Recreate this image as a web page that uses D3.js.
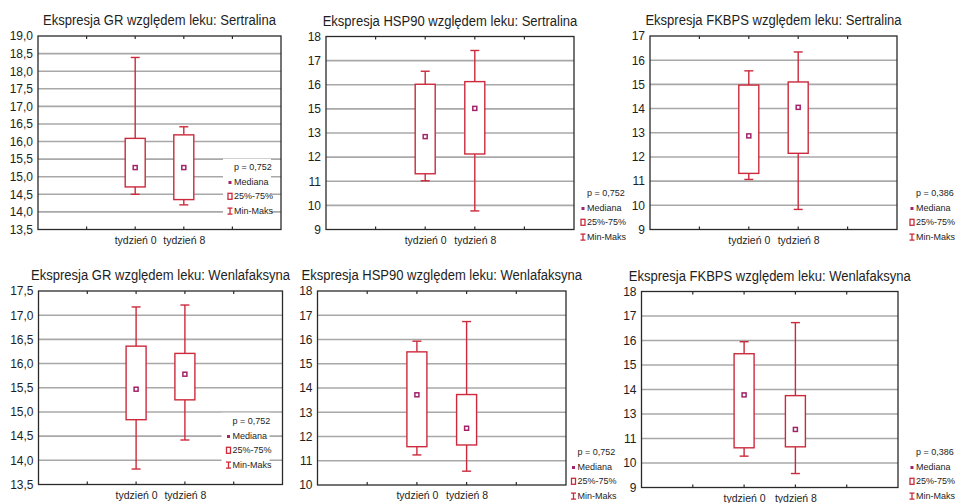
<!DOCTYPE html>
<html><head><meta charset="utf-8">
<script src="https://cdn.jsdelivr.net/npm/d3@7"></script>
<style>
body{margin:0;background:#fff}
svg{display:block}
text{font-family:"Liberation Sans",Arial,Helvetica,sans-serif;fill:#1e1e1e}
</style>
</head><body>
<svg id="chart" width="958" height="503"></svg>
<script>
// ---------- data ----------
const categories = ["tydzień 0", "tydzień 8"];
const titles = [
  "Ekspresja GR względem leku: Sertralina",
  "Ekspresja HSP90 względem leku: Sertralina",
  "Ekspresja FKBPS względem leku: Sertralina",
  "Ekspresja GR względem leku: Wenlafaksyna",
  "Ekspresja HSP90 względem leku: Wenlafaksyna",
  "Ekspresja FKBPS względem leku: Wenlafaksyna"
];
const pValues = ["p = 0,752", "p = 0,752", "p = 0,386", "p = 0,752", "p = 0,752", "p = 0,386"];
const legendLabels = ["Mediana", "25%-75%", "Min-Maks"];
const yDomains = [[13.5, 19], [9, 17], [9, 17], [13.5, 17.5], [10, 18], [9, 17]];
const yTickLabels = [
  ["13,5","14,0","14,5","15,0","15,5","16,0","16,5","17,0","17,5","18,0","18,5","19,0"],
  ["9","10","11","12","13","15","16","17","18"],
  ["9","10","11","12","13","14","15","16","17"],
  ["13,5","14,0","14,5","15,0","15,5","16,0","16,5","17,0","17,5"],
  ["10","11","12","13","14","15","16","17","18"],
  ["9","10","11","13","14","15","16","17","18"]
];
// values per panel: [tydzień 0, tydzień 8]
const minVals = [[14.50, 14.20], [11.02, 9.77], [11.07, 9.83], [13.82, 14.42], [11.24, 10.57], [10.28, 9.57]];
const q1Vals  = [[14.71, 14.35], [11.31, 12.13], [11.32, 12.15], [14.84, 15.25], [11.58, 11.65], [10.62, 10.66]];
const medVals = [[15.26, 15.26], [12.85, 14.02], [12.87, 14.05], [15.47, 15.78], [13.72, 12.34], [12.78, 11.37]];
const q3Vals  = [[16.09, 16.19], [15.02, 15.13], [14.97, 15.10], [16.36, 16.21], [15.49, 13.73], [14.46, 12.75]];
const maxVals = [[18.39, 16.42], [15.56, 16.42], [15.56, 16.34], [17.17, 17.21], [15.93, 16.74], [14.95, 15.73]];

// ---------- layout ----------
const frames = [
  [38, 36, 281, 229.5], [326, 36.5, 574, 229.5], [650, 36, 897, 229.5],
  [38.5, 291, 282.5, 484.5], [317.5, 291, 566, 485], [641.5, 291.5, 898, 487.5]
];
const legendPos = [
  [230, 166.7, true], [583, 192.7, false], [912, 192.7, false],
  [228.5, 420.7, true], [573.5, 451.7, false], [912, 451.7, false]
];
const RED = "#cc2a3c", MAG = "#a3246a", GRID = "#a8a8a8", FRAME = "#2a2a2a";

const svg = d3.select("#chart");

function condense(sel, f) {
  sel.each(function () {
    const w = this.getComputedTextLength();
    d3.select(this).attr("textLength", w * f).attr("lengthAdjust", "spacingAndGlyphs");
  });
}

titles.forEach((title, i) => {
  const [L, T, R, B] = frames[i];
  const g = svg.append("g");
  const [lo, hi] = yDomains[i];
  const labels = yTickLabels[i];
  const tickVals = d3.range(labels.length).map(k => lo + k * (hi - lo) / (labels.length - 1));
  const y = d3.scaleLinear().domain([lo, hi]).range([B, T]);
  const xDomain = ["_l", ...categories, "_r"];
  const x = d3.scalePoint().domain(xDomain).range([L, R]).padding(1);

  // gridlines
  g.append("g").selectAll("line").data(tickVals.slice(1, -1)).join("line")
    .attr("x1", L).attr("x2", R).attr("y1", d => y(d)).attr("y2", d => y(d))
    .attr("stroke", GRID).attr("stroke-width", 1.6);

  // y axis labels
  const yAxis = d3.axisLeft(y).tickValues(tickVals)
    .tickFormat((d, k) => labels[k]).tickSize(0).tickPadding(5);
  const ya = g.append("g").attr("transform", `translate(${L},0)`).call(yAxis);
  ya.select(".domain").remove();
  ya.selectAll("text").attr("font-size", 12).attr("font-family", null).attr("fill", "#1e1e1e");

  // x axis labels
  const xAxis = d3.axisBottom(x).tickFormat(d => categories.includes(d) ? d : "").tickSize(0).tickPadding(0);
  const xa = g.append("g").attr("transform", `translate(0,${B})`).call(xAxis);
  xa.select(".domain").remove();
  xa.selectAll("text").attr("font-size", 10.5).attr("font-family", null).attr("fill", "#1e1e1e")
    .attr("dy", null).attr("y", 14);

  // frame
  g.append("rect").attr("x", L).attr("y", T).attr("width", R - L).attr("height", B - T)
    .attr("fill", "none").attr("stroke", FRAME).attr("stroke-width", 1.3);
  // inner ticks top & bottom
  g.append("g").selectAll("line").data(xDomain).join("line")
    .attr("x1", d => x(d)).attr("x2", d => x(d)).attr("y1", T).attr("y2", T + 3)
    .attr("stroke", FRAME).attr("stroke-width", 1.2);
  g.append("g").selectAll("line").data(xDomain).join("line")
    .attr("x1", d => x(d)).attr("x2", d => x(d)).attr("y1", B).attr("y2", B - 3)
    .attr("stroke", FRAME).attr("stroke-width", 1.2);

  // boxes
  const bw = 20, cw = 9;
  categories.forEach((c, j) => {
    const cx = x(c);
    const bg = g.append("g");
    bg.append("line").attr("x1", cx).attr("x2", cx).attr("y1", y(maxVals[i][j])).attr("y2", y(q3Vals[i][j]))
      .attr("stroke", RED).attr("stroke-width", 1.4);
    bg.append("line").attr("x1", cx).attr("x2", cx).attr("y1", y(q1Vals[i][j])).attr("y2", y(minVals[i][j]))
      .attr("stroke", RED).attr("stroke-width", 1.4);
    [maxVals[i][j], minVals[i][j]].forEach(v => {
      bg.append("line").attr("x1", cx - cw / 2).attr("x2", cx + cw / 2).attr("y1", y(v)).attr("y2", y(v))
        .attr("stroke", RED).attr("stroke-width", 1.4);
    });
    bg.append("rect").attr("x", cx - bw / 2).attr("y", y(q3Vals[i][j]))
      .attr("width", bw).attr("height", y(q1Vals[i][j]) - y(q3Vals[i][j]))
      .attr("fill", "#fff").attr("stroke", RED).attr("stroke-width", 1.4);
    bg.append("rect").attr("x", cx - 2).attr("y", y(medVals[i][j]) - 2).attr("width", 4).attr("height", 4)
      .attr("fill", "#fff").attr("stroke", MAG).attr("stroke-width", 1.5);
  });

  // title
  const tt = g.append("text").attr("x", (L + R) / 2).attr("y", T - 11).attr("text-anchor", "middle")
    .attr("font-size", 14).text(title);
  condense(tt, 0.93);

  // legend
  const [mx, cy0, inside] = legendPos[i];
  const sp = 14.8;
  const lg = g.append("g");
  if (inside) {
    lg.append("rect").attr("x", mx - 7).attr("y", cy0 - 8).attr("width", 48).attr("height", 3 * sp + 16)
      .attr("fill", "#fff");
  }
  lg.selectAll("text").data([pValues[i], ...legendLabels]).join("text")
    .attr("x", mx + 4).attr("y", (d, k) => cy0 + k * sp).attr("dy", "0.35em")
    .attr("font-size", 9).text(d => d);
  const c1 = cy0 + sp, c2 = cy0 + 2 * sp, c3 = cy0 + 3 * sp;
  lg.append("rect").attr("x", mx - 1.5).attr("y", c1 - 0.5).attr("width", 3).attr("height", 3).attr("fill", MAG);
  lg.append("rect").attr("x", mx - 2).attr("y", c2 - 3).attr("width", 4).attr("height", 6)
    .attr("fill", "#fff").attr("stroke", RED).attr("stroke-width", 1.3);
  lg.append("line").attr("x1", mx).attr("x2", mx).attr("y1", c3 - 3).attr("y2", c3 + 3).attr("stroke", RED).attr("stroke-width", 1.3);
  lg.append("line").attr("x1", mx - 2.5).attr("x2", mx + 2.5).attr("y1", c3 - 3).attr("y2", c3 - 3).attr("stroke", RED).attr("stroke-width", 1.3);
  lg.append("line").attr("x1", mx - 2.5).attr("x2", mx + 2.5).attr("y1", c3 + 3).attr("y2", c3 + 3).attr("stroke", RED).attr("stroke-width", 1.3);
});
</script>
</body></html>
